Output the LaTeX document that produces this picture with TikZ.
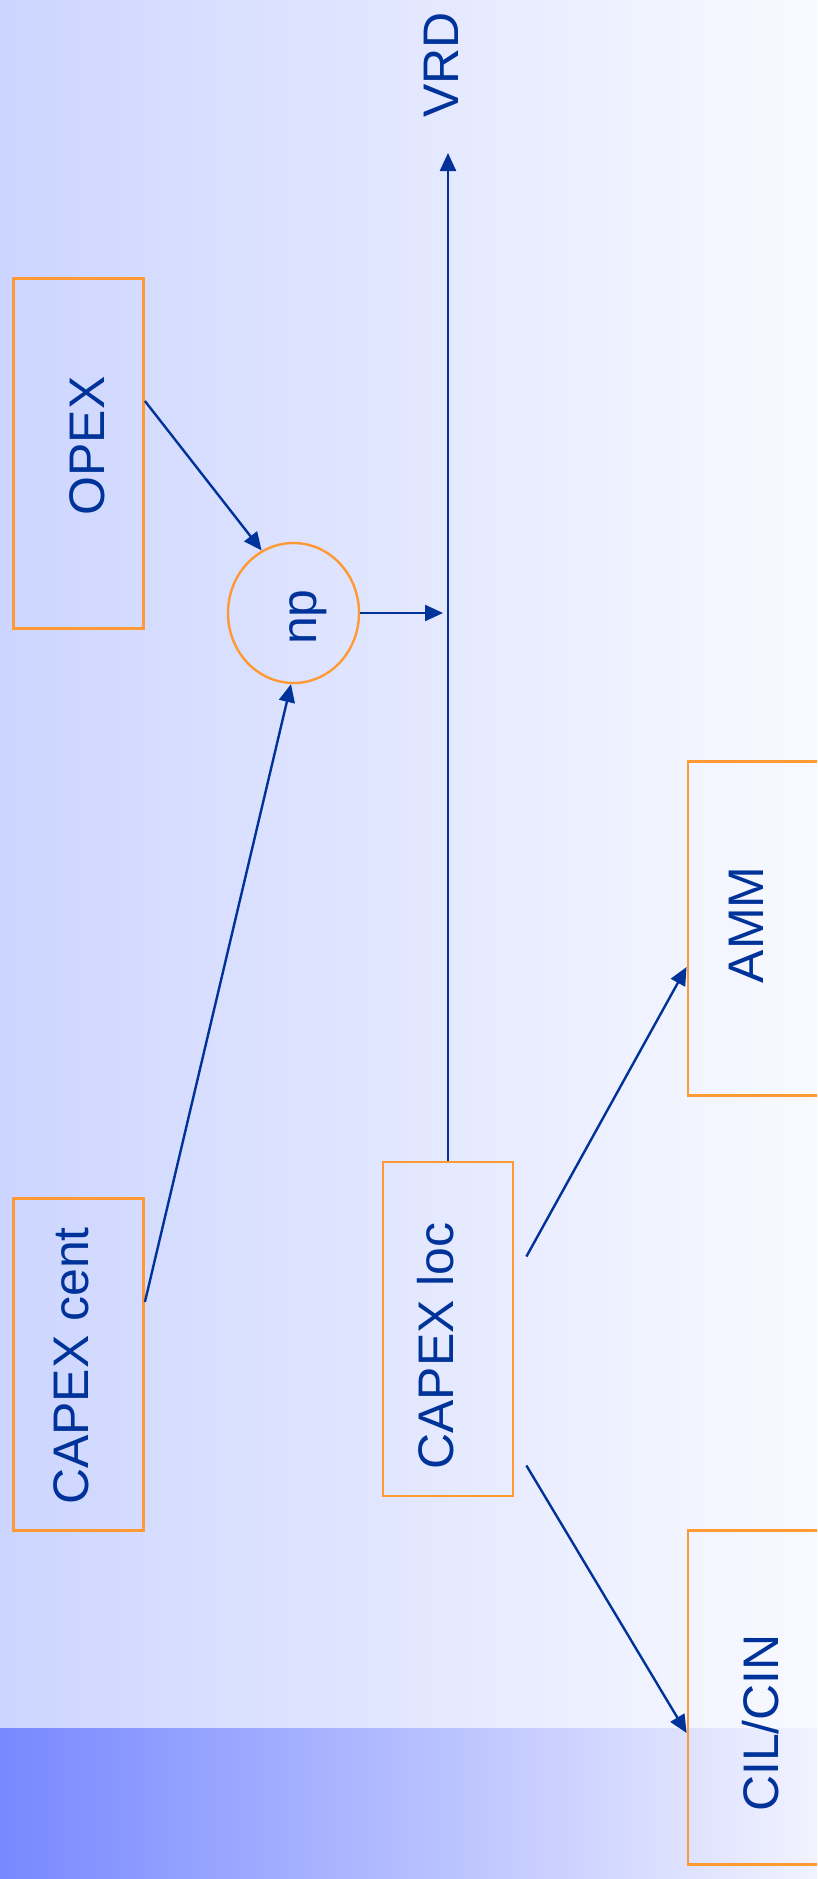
\documentclass[tikz,border=0pt]{standalone}
\usepackage{fontspec}
\setmainfont{Liberation Sans}
\usetikzlibrary{arrows.meta,shapes.geometric,calc}
\definecolor{dblue}{RGB}{0,51,153}
\definecolor{orng}{RGB}{255,153,51}
\definecolor{bgleft}{RGB}{204,213,255}
\definecolor{bgright}{RGB}{249,250,255}
\definecolor{bandleft}{RGB}{119,136,255}
\definecolor{bandright}{RGB}{242,243,255}
\tikzset{
  box/.style={draw=orng, line width=2.8pt, rectangle, inner sep=0pt},
  circ/.style={draw=orng, line width=2.4pt, ellipse, inner sep=0pt, minimum width=131pt, minimum height=140pt},
  lbl/.style={text=dblue, rotate=90, anchor=base, inner sep=0pt, font=\fontsize{50}{60}\selectfont},
  arr/.style={draw=dblue, line width=2.4pt, -{Triangle[length=18pt,width=16pt]}},
  ln/.style={draw=dblue, line width=2.4pt}
}
\begin{document}
\begin{tikzpicture}[x=1pt,y=-1pt]
\useasboundingbox (0,0) rectangle (817,1879);
\clip (0,0) rectangle (817,1879);
\shade[left color=bgleft, right color=bgright] (0,0) rectangle (817,1728);
\shade[left color=bandleft, right color=bandright] (0,1728) rectangle (817,1879);

% boxes
\node[box, minimum width=130pt, minimum height=350pt] (opex) at (78.5,453.5) {};
\node[box, minimum width=130pt, minimum height=332pt] (cent) at (78.5,1364.5) {};
\node[box, minimum width=130pt, minimum height=334pt] (loc) at (448,1329) {};
\node[box, minimum width=160pt, minimum height=334pt] (amm) at (768,928.5) {};
\node[box, minimum width=160pt, minimum height=334pt] (cil) at (768,1697.5) {};
\node[circ] (np) at (293.5,613) {};
\coordinate (vrdtip) at (448,153);

% labels
\node[lbl] (vrdtxt) at (458,65) {VRD};
\node[lbl] (opextxt) at (104,446) {OPEX};
\node[lbl] (nptxt) at (316,617) {np};
\node[lbl] (centtxt) at (88,1366) {CAPEX cent};
\node[lbl] (loctxt) at (453,1346) {CAPEX loc};
\node[lbl] (ammtxt) at (763,925) {AMM};
\node[lbl] (ciltxt) at (778,1723) {CIL/CIN};

% connectors
\draw[arr] (loc.north) -- (vrdtip);
\draw[arr, shorten >=5pt] (np.east) -- (np.east -| loc.north);
\draw[arr] ([yshift=52.5pt]opex.east) -- (np.117);
\draw[arr] ([yshift=62.5pt]cent.east) -- (np.268);
\draw[arr] ([xshift=12pt,yshift=72.5pt]loc.east) -- ([yshift=-38.5pt]amm.west);
\draw[arr] ([xshift=12pt,yshift=-136.5pt]loc.east) -- ([yshift=-35.5pt]cil.west);
\end{tikzpicture}
\end{document}
